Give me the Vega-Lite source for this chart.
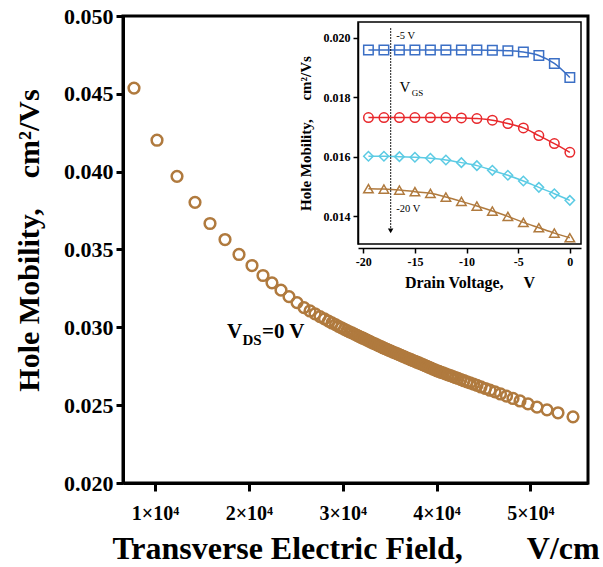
{
  "$schema": "https://vega.github.io/schema/vega-lite/v6.json",
  "width": 465,
  "height": 467,
  "autosize": "none",
  "padding": {"left": 123, "top": 16, "right": 15, "bottom": 84},
  "background": "white",
  "config": {"view": {"stroke": "black", "strokeWidth": 3}, "font": "Liberation Serif"},
  "resolve": {"scale": {"x": "independent", "y": "independent", "color": "independent", "shape": "independent"}},
  "layer": [
    {
      "layer": [
        {
          "data": {"values": [
            {"E":7762,"mu":0.04537},{"E":10213,"mu":0.04202},{"E":12344,"mu":0.03970},{"E":14262,"mu":0.03803},{"E":15860,"mu":0.03667},
            {"E":17459,"mu":0.03564},{"E":18950,"mu":0.03468},{"E":20335,"mu":0.03397},{"E":21507,"mu":0.03333},{"E":22466,"mu":0.03286},
            {"E":23425,"mu":0.03239},{"E":24278,"mu":0.03197},{"E":25130,"mu":0.03159},{"E":25876,"mu":0.03127},{"E":26515,"mu":0.03105},
            {"E":27048,"mu":0.03087},{"E":27581,"mu":0.03069},{"E":28060,"mu":0.03054},{"E":28486,"mu":0.03040},{"E":28859,"mu":0.03028},
            {"E":29232,"mu":0.03017},{"E":29552,"mu":0.03006},{"E":29872,"mu":0.02997},{"E":30191,"mu":0.02987},{"E":30458,"mu":0.02979},
            {"E":30724,"mu":0.02971},{"E":30990,"mu":0.02964},{"E":31257,"mu":0.02956},{"E":31523,"mu":0.02948},{"E":31736,"mu":0.02942},
            {"E":31949,"mu":0.02936},{"E":32162,"mu":0.02930},{"E":32376,"mu":0.02924},{"E":32589,"mu":0.02918},{"E":32802,"mu":0.02912},
            {"E":33015,"mu":0.02905},{"E":33228,"mu":0.02899},{"E":33441,"mu":0.02894},{"E":33654,"mu":0.02887},{"E":33867,"mu":0.02881},
            {"E":34080,"mu":0.02876},{"E":34293,"mu":0.02869},{"E":34507,"mu":0.02863},{"E":34720,"mu":0.02858},{"E":34933,"mu":0.02852},
            {"E":35146,"mu":0.02847},{"E":35359,"mu":0.02841},{"E":35572,"mu":0.02836},{"E":35785,"mu":0.02831},{"E":35998,"mu":0.02825},
            {"E":36211,"mu":0.02820},{"E":36424,"mu":0.02814},{"E":36638,"mu":0.02809},{"E":36851,"mu":0.02803},{"E":37064,"mu":0.02798},
            {"E":37277,"mu":0.02792},{"E":37490,"mu":0.02787},{"E":37703,"mu":0.02782},{"E":37916,"mu":0.02776},{"E":38129,"mu":0.02771},
            {"E":38342,"mu":0.02765},{"E":38555,"mu":0.02760},{"E":38769,"mu":0.02754},{"E":38982,"mu":0.02749},{"E":39195,"mu":0.02743},
            {"E":39408,"mu":0.02738},{"E":39621,"mu":0.02732},{"E":39834,"mu":0.02727},{"E":40047,"mu":0.02721},{"E":40260,"mu":0.02717},
            {"E":40473,"mu":0.02711},{"E":40686,"mu":0.02707},{"E":40953,"mu":0.02701},{"E":41219,"mu":0.02695},{"E":41486,"mu":0.02690},
            {"E":41752,"mu":0.02683},{"E":42018,"mu":0.02677},{"E":42285,"mu":0.02672},{"E":42604,"mu":0.02664},{"E":42924,"mu":0.02657},
            {"E":43244,"mu":0.02650},{"E":43563,"mu":0.02643},{"E":43936,"mu":0.02635},{"E":44309,"mu":0.02627},{"E":44735,"mu":0.02617},
            {"E":45215,"mu":0.02607},{"E":45694,"mu":0.02596},{"E":46227,"mu":0.02585},{"E":46813,"mu":0.02572},{"E":47452,"mu":0.02558},
            {"E":48145,"mu":0.02543},{"E":48891,"mu":0.02527},{"E":49743,"mu":0.02508},{"E":50702,"mu":0.02487},{"E":51768,"mu":0.02470},
            {"E":52940,"mu":0.02451},{"E":54538,"mu":0.02425}
          ]},
          "mark": {"type": "point", "shape": "circle", "filled": false, "size": 115, "strokeWidth": 2.5, "color": "#b07a3e", "opacity": 1},
          "encoding": {
            "x": {"field": "E", "type": "quantitative",
              "scale": {"domain": [6590, 56136], "nice": false, "zero": false},
              "axis": {"values": [10000, 20000, 30000, 40000, 50000],
                "labelExpr": "format(datum.value/10000,'d') + '×10⁴'",
                "title": "Transverse Electric Field,\u00a0\u00a0\u00a0\u00a0\u00a0\u00a0\u00a0\u00a0V/cm",
                "titleFont": "Liberation Serif", "titleFontSize": 32, "titleFontWeight": "bold", "titleColor": "#000000",
                "titleBaseline": "alphabetic", "titleY": 75,
                "labelFont": "Liberation Serif", "labelFontSize": 20, "labelFontWeight": "bold", "labelColor": "#000000",
                "labelPadding": 12, "tickSize": 8, "tickWidth": 3, "tickColor": "#000000",
                "domainColor": "#000000", "domainWidth": 3, "grid": false}},
            "y": {"field": "mu", "type": "quantitative",
              "scale": {"domain": [0.02, 0.05], "nice": false, "zero": false},
              "axis": {"values": [0.02, 0.025, 0.03, 0.035, 0.04, 0.045, 0.05], "format": ".3f",
                "title": "Hole Mobility,\u00a0\u00a0\u00a0\u00a0cm²/Vs",
                "titleFont": "Liberation Serif", "titleFontSize": 30, "titleFontWeight": "bold", "titleColor": "#000000",
                "titleBaseline": "alphabetic", "titleX": -85, "titleY": 224, "titleAngle": -90,
                "labelFont": "Liberation Serif", "labelFontSize": 22, "labelFontWeight": "bold", "labelColor": "#000000",
                "labelPadding": 3, "tickSize": 7, "tickWidth": 3, "tickColor": "#000000",
                "domainColor": "#000000", "domainWidth": 3, "grid": false}}
          }
        },
        {
          "data": {"values": [{}]},
          "mark": {"type": "text", "text": "V", "font": "Liberation Serif", "fontWeight": "bold", "fontSize": 21, "align": "left", "baseline": "alphabetic", "color": "black"},
          "encoding": {"x": {"datum": 17672, "type": "quantitative"}, "y": {"datum": 0.02933, "type": "quantitative"}}
        },
        {
          "data": {"values": [{}]},
          "mark": {"type": "text", "text": "DS", "font": "Liberation Serif", "fontWeight": "bold", "fontSize": 15, "align": "left", "baseline": "alphabetic", "color": "black"},
          "encoding": {"x": {"datum": 19323, "type": "quantitative"}, "y": {"datum": 0.02888, "type": "quantitative"}}
        },
        {
          "data": {"values": [{}]},
          "mark": {"type": "text", "text": "=0 V", "font": "Liberation Serif", "fontWeight": "bold", "fontSize": 21, "align": "left", "baseline": "alphabetic", "color": "black"},
          "encoding": {"x": {"datum": 21401, "type": "quantitative"}, "y": {"datum": 0.02933, "type": "quantitative"}}
        }
      ]
    },
    {
      "layer": [
        {
          "data": {"values": [{}]},
          "mark": {"type": "rect", "fillOpacity": 0, "stroke": "black", "strokeWidth": 1.5},
          "encoding": {
            "x": {"datum": -20.51, "type": "quantitative"}, "x2": {"datum": 1.08},
            "y": {"datum": 0.01306, "type": "quantitative"}, "y2": {"datum": 0.02053}
          }
        },
        {
          "data": {"name": "inset", "values": [
            {"v":-19.5,"s":"-5 V","mu":0.019584},{"v":-18,"s":"-5 V","mu":0.019584},{"v":-16.5,"s":"-5 V","mu":0.019584},{"v":-15,"s":"-5 V","mu":0.019584},
            {"v":-13.5,"s":"-5 V","mu":0.019584},{"v":-12,"s":"-5 V","mu":0.019584},{"v":-10.5,"s":"-5 V","mu":0.019584},{"v":-9,"s":"-5 V","mu":0.019584},
            {"v":-7.5,"s":"-5 V","mu":0.019580},{"v":-6,"s":"-5 V","mu":0.019562},{"v":-4.5,"s":"-5 V","mu":0.019517},{"v":-3,"s":"-5 V","mu":0.019404},
            {"v":-1.5,"s":"-5 V","mu":0.019135},{"v":0,"s":"-5 V","mu":0.018663},
            {"v":-19.5,"s":"-10 V","mu":0.017315},{"v":-18,"s":"-10 V","mu":0.017315},{"v":-16.5,"s":"-10 V","mu":0.017315},{"v":-15,"s":"-10 V","mu":0.017315},
            {"v":-13.5,"s":"-10 V","mu":0.017315},{"v":-12,"s":"-10 V","mu":0.017315},{"v":-10.5,"s":"-10 V","mu":0.017303},{"v":-9,"s":"-10 V","mu":0.017281},
            {"v":-7.5,"s":"-10 V","mu":0.017225},{"v":-6,"s":"-10 V","mu":0.017112},{"v":-4.5,"s":"-10 V","mu":0.016966},{"v":-3,"s":"-10 V","mu":0.016708},
            {"v":-1.5,"s":"-10 V","mu":0.016438},{"v":0,"s":"-10 V","mu":0.016146},
            {"v":-19.5,"s":"-15 V","mu":0.016011},{"v":-18,"s":"-15 V","mu":0.016011},{"v":-16.5,"s":"-15 V","mu":0.016000},{"v":-15,"s":"-15 V","mu":0.015978},
            {"v":-13.5,"s":"-15 V","mu":0.015944},{"v":-12,"s":"-15 V","mu":0.015888},{"v":-10.5,"s":"-15 V","mu":0.015798},{"v":-9,"s":"-15 V","mu":0.015697},
            {"v":-7.5,"s":"-15 V","mu":0.015539},{"v":-6,"s":"-15 V","mu":0.015371},{"v":-4.5,"s":"-15 V","mu":0.015180},{"v":-3,"s":"-15 V","mu":0.014966},
            {"v":-1.5,"s":"-15 V","mu":0.014753},{"v":0,"s":"-15 V","mu":0.014528},
            {"v":-19.5,"s":"-20 V","mu":0.014921},{"v":-18,"s":"-20 V","mu":0.014910},{"v":-16.5,"s":"-20 V","mu":0.014876},{"v":-15,"s":"-20 V","mu":0.014820},
            {"v":-13.5,"s":"-20 V","mu":0.014764},{"v":-12,"s":"-20 V","mu":0.014640},{"v":-10.5,"s":"-20 V","mu":0.014494},{"v":-9,"s":"-20 V","mu":0.014337},
            {"v":-7.5,"s":"-20 V","mu":0.014169},{"v":-6,"s":"-20 V","mu":0.013989},{"v":-4.5,"s":"-20 V","mu":0.013787},{"v":-3,"s":"-20 V","mu":0.013607},
            {"v":-1.5,"s":"-20 V","mu":0.013427},{"v":0,"s":"-20 V","mu":0.013270}
          ]},
          "mark": {"type": "line", "strokeWidth": 1.5, "interpolate": "monotone"},
          "encoding": {
            "x": {"field": "v", "type": "quantitative",
              "scale": {"domain": [-20.51, 1.08], "range": [235, 458], "nice": false, "zero": false},
              "axis": {"orient": "bottom", "offset": -235, "values": [-20, -15, -10, -5, 0],
                "labelExpr": "'' + datum.value",
                "title": "Drain Voltage,\u00a0\u00a0\u00a0\u00a0\u00a0V",
                "titleFont": "Liberation Serif", "titleFontSize": 16, "titleFontWeight": "bold", "titleColor": "#000000",
                "titleBaseline": "alphabetic", "titleY": 39,
                "labelFont": "Liberation Serif", "labelFontSize": 12, "labelFontWeight": "bold", "labelColor": "#000000",
                "labelPadding": 3, "tickSize": 5, "tickWidth": 1.5, "tickColor": "#000000",
                "domainColor": "#000000", "domainWidth": 1.5, "grid": false}},
            "y": {"field": "mu", "type": "quantitative",
              "scale": {"domain": [0.01306, 0.02053], "range": [228, 6], "nice": false, "zero": false},
              "axis": {"orient": "left", "offset": -235, "values": [0.014, 0.016, 0.018, 0.02], "format": ".3f",
                "title": "Hole Mobility,\u00a0\u00a0\u00a0\u00a0\u00a0cm²/Vs",
                "titleFont": "Liberation Serif", "titleFontSize": 15, "titleFontWeight": "bold", "titleColor": "#000000",
                "titleBaseline": "alphabetic", "titleX": -48, "titleAngle": -90,
                "labelFont": "Liberation Serif", "labelFontSize": 12, "labelFontWeight": "bold", "labelColor": "#000000",
                "labelPadding": 3, "tickSize": 5, "tickWidth": 1.5, "tickColor": "#000000",
                "domainColor": "#000000", "domainWidth": 1.5, "grid": false}},
            "color": {"field": "s", "type": "nominal", "legend": null,
              "scale": {"domain": ["-5 V", "-10 V", "-15 V", "-20 V"], "range": ["#3b6fc5", "#e8282c", "#5ccbe4", "#b07a3e"]}}
          }
        },
        {
          "data": {"name": "inset"},
          "mark": {"type": "point", "filled": false, "size": 90, "strokeWidth": 1.5, "opacity": 1},
          "encoding": {
            "x": {"field": "v", "type": "quantitative"},
            "y": {"field": "mu", "type": "quantitative"},
            "color": {"field": "s", "type": "nominal", "legend": null},
            "shape": {"field": "s", "type": "nominal", "legend": null,
              "scale": {"domain": ["-5 V", "-10 V", "-15 V", "-20 V"], "range": ["square", "circle", "diamond", "triangle-up"]}}
          }
        },
        {
          "data": {"values": [{}]},
          "mark": {"type": "rule", "strokeDash": [1.5, 1.5], "strokeWidth": 1.2, "color": "black"},
          "encoding": {
            "x": {"datum": -17.35, "type": "quantitative"},
            "y": {"datum": 0.02032, "type": "quantitative"}, "y2": {"datum": 0.0136}
          }
        },
        {
          "data": {"values": [{}]},
          "mark": {"type": "point", "shape": "triangle-down", "filled": true, "size": 30, "color": "black", "opacity": 1},
          "encoding": {
            "x": {"datum": -17.35, "type": "quantitative"},
            "y": {"datum": 0.0135, "type": "quantitative"}
          }
        },
        {
          "data": {"values": [{}]},
          "mark": {"type": "text", "text": "-5 V", "font": "Liberation Serif", "fontSize": 10.5, "align": "left", "baseline": "middle", "color": "black"},
          "encoding": {"x": {"datum": -16.8, "type": "quantitative"}, "y": {"datum": 0.02006, "type": "quantitative"}}
        },
        {
          "data": {"values": [{}]},
          "mark": {"type": "text", "text": "-20 V", "font": "Liberation Serif", "fontSize": 10.5, "align": "left", "baseline": "middle", "color": "black"},
          "encoding": {"x": {"datum": -16.8, "type": "quantitative"}, "y": {"datum": 0.014235, "type": "quantitative"}}
        },
        {
          "data": {"values": [{}]},
          "mark": {"type": "text", "text": "V", "font": "Liberation Serif", "fontSize": 15, "align": "left", "baseline": "middle", "color": "black"},
          "encoding": {"x": {"datum": -16.5, "type": "quantitative"}, "y": {"datum": 0.01833, "type": "quantitative"}}
        },
        {
          "data": {"values": [{}]},
          "mark": {"type": "text", "text": "GS", "font": "Liberation Serif", "fontSize": 9, "align": "left", "baseline": "middle", "color": "black"},
          "encoding": {"x": {"datum": -15.3, "type": "quantitative"}, "y": {"datum": 0.01813, "type": "quantitative"}}
        }
      ]
    }
  ]
}
